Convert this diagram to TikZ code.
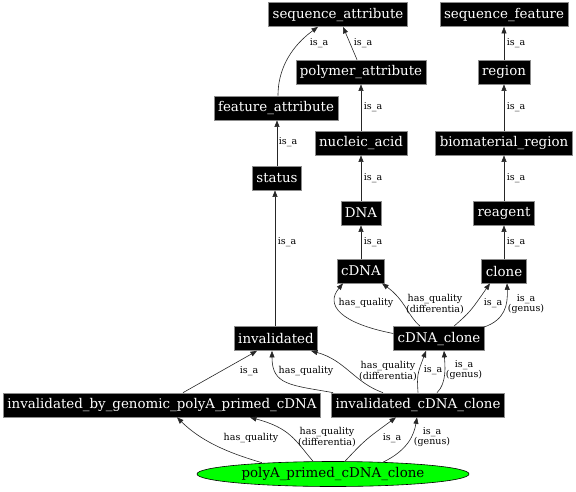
\documentclass[tikz,border=0pt]{standalone}
\usepackage{fontspec}
\newfontfamily\dvserif{DejaVu Serif}
\usetikzlibrary{shapes.geometric,arrows.meta}
\tikzset{
  box/.style={fill=black, draw=black!45, line width=0.7pt, text=white,
    font=\dvserif\fontsize{13.4}{15}\selectfont, inner xsep=4pt, inner ysep=0pt,
    minimum height=24pt},
  conn/.style={draw=black!85, line width=0.6pt, -{Triangle[length=6.5pt,width=5pt]}},
  lbl/.style={font=\dvserif\fontsize{9.5}{9}\selectfont, align=center, inner sep=0pt, text=black},
}
\begin{document}
\begin{tikzpicture}[x=1pt,y=-1pt]
\useasboundingbox (0,0) rectangle (576,491);
% nodes
\node[box] (sa) at (338,14.5) {sequence\_attribute};
\node[box] (sf) at (504,14.5) {sequence\_feature};
\node[box] (pa) at (361,72) {polymer\_attribute};
\node[box] (rg) at (504,72) {region};
\node[box] (fa) at (276,108) {feature\_attribute};
\node[box] (na) at (361,143) {nucleic\_acid};
\node[box] (bm) at (504,143) {biomaterial\_region};
\node[box] (st) at (277,178) {status};
\node[box] (dna) at (361,213) {DNA};
\node[box] (re) at (504,213) {reagent};
\node[box] (cdna) at (361,271) {cDNA};
\node[box] (cl) at (504,271) {clone};
\node[box] (inv) at (276,338.5) {invalidated};
\node[box] (cc) at (439,338.5) {cDNA\_clone};
\node[box] (ibg) at (162,405) {invalidated\_by\_genomic\_polyA\_primed\_cDNA};
\node[box] (icc) at (418,405) {invalidated\_cDNA\_clone};
\node[ellipse, fill=green, draw=black, line width=0.6pt, minimum width=272pt, minimum height=25pt,
  inner sep=0pt, font=\dvserif\fontsize{13.4}{15}\selectfont] (pc) at (333,474) {polyA\_primed\_cDNA\_clone};

% top part
\draw[conn] ([xshift=2pt]fa.north) .. controls +(0,-35) and (300,40) .. ([xshift=-20pt]sa.south);
\node[lbl] (l1) at (319,43) {is\_a};
\draw[conn] ([xshift=-4pt]pa.north) -- ([xshift=5pt]sa.south);
\node[lbl] (l2) at (363,43) {is\_a};
\draw[conn] (st.north) -- (st.north |- fa.south);
\node[lbl] (l3) at (288,142) {is\_a};
\draw[conn] (na) -- (pa);
\node[lbl] (l4) at (373,107) {is\_a};
\draw[conn] (dna) -- (na);
\node[lbl] (l5) at (373,178) {is\_a};
\draw[conn] (cdna) -- (dna);
\node[lbl] (l6) at (373,242) {is\_a};
\draw[conn] (rg) -- (sf);
\node[lbl] (l7) at (516,43) {is\_a};
\draw[conn] (bm) -- (rg);
\node[lbl] (l8) at (516,107) {is\_a};
\draw[conn] (re) -- (bm);
\node[lbl] (l9) at (516,178) {is\_a};
\draw[conn] (cl) -- (re);
\node[lbl] (l10) at (516,242) {is\_a};
\draw[conn] ([xshift=-1pt]inv.north) -- ([xshift=-1pt]inv.north |- st.south);
\node[lbl] (l11) at (287,242) {is\_a};

% cDNA_clone edges
\draw[conn] ([yshift=5pt]cc.west) .. controls (340,323) and (325,305) .. ([xshift=-18pt]cdna.south);
\node[lbl] (l12) at (366,303) {has\_quality};
\draw[conn] ([xshift=-19pt]cc.north) .. controls (408,316) and (405,300) .. ([xshift=21pt]cdna.south);
\node[lbl] (l13) at (435,304) {has\_quality\\(differentia)};
\draw[conn] ([xshift=15pt]cc.north) .. controls (470,312) .. ([xshift=-14pt]cl.south);
\node[lbl] (l14) at (493,303) {is\_a};
\draw[conn] ([xshift=-1pt,yshift=-1pt]cc.north east) .. controls (505,320) and (508,305) .. ([xshift=3pt]cl.south);
\node[lbl] (l15) at (526,304) {is\_a\\(genus)};

% row of invalidated
\draw[conn] ([xshift=21pt]ibg.north) -- ([xshift=-19pt]inv.south);
\node[lbl] (l16) at (249,371) {is\_a};
\draw[conn] ([xshift=2pt]icc.north west) .. controls (290,385) and (272,385) .. ([xshift=-4pt]inv.south);
\node[lbl] (l17) at (306,371) {has\_quality};
\draw[conn] ([xshift=-35pt]icc.north) .. controls (355,383) and (345,360) .. ([xshift=35pt]inv.south);
\node[lbl] (l18) at (388,371) {has\_quality\\(differentia)};
\draw[conn] (icc.north) .. controls (417,375) .. ([xshift=-13pt]cc.south);
\node[lbl] (l19) at (433,370) {is\_a};
\draw[conn] ([xshift=19pt]icc.north) .. controls (447,383) and (445,365) .. ([xshift=5pt]cc.south);
\node[lbl] (l20) at (464,370) {is\_a\\(genus)};

% from ellipse
\draw[conn] ([xshift=-71pt,yshift=-1.5pt]pc.north) .. controls (225,452) and (200,440) .. ([xshift=15pt]ibg.south);
\node[lbl] (l21) at (251,438) {has\_quality};
\draw[conn] ([xshift=-20pt]pc.north) .. controls (295,440) and (290,428) .. ([xshift=88pt]ibg.south);
\node[lbl] (l22) at (327,437) {has\_quality\\(differentia)};
\draw[conn] ([xshift=12pt]pc.north) .. controls (365,440) .. ([xshift=-22pt]icc.south);
\node[lbl] (l23) at (392,438) {is\_a};
\draw[conn] ([xshift=50pt,yshift=-1pt]pc.north) .. controls (408,450) and (414,435) .. ([xshift=-1pt]icc.south);
\node[lbl] (l24) at (432,437) {is\_a\\(genus)};
\end{tikzpicture}
\end{document}
